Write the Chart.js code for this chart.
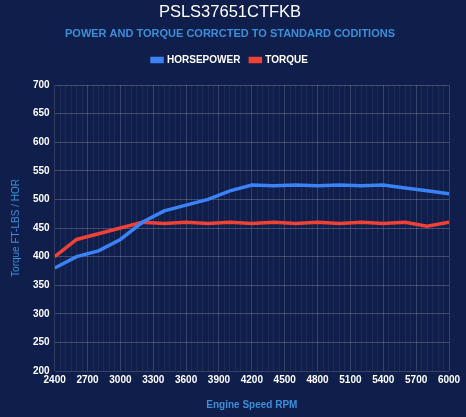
<!DOCTYPE html>
<html>
<head>
<meta charset="utf-8">
<script src="https://cdn.jsdelivr.net/npm/chart.js@4"></script>
<style>
  html, body { margin: 0; padding: 0; background: #101e4b; }
  #wrap { width: 466px; height: 417px; }
</style>
</head>
<body>
<div id="wrap"><canvas id="dyno" width="466" height="417"></canvas></div>
<script>
// RPM sample points and readings
const rpm = [2400, 2600, 2800, 3000, 3200, 3400, 3600, 3800, 4000, 4200,
             4400, 4600, 4800, 5000, 5200, 5400, 5600, 5800, 6000];
const horsepower = [380, 400, 410, 430, 460, 480, 490, 500, 515, 525,
                    524, 525, 524, 525, 524, 525, 520, 515, 510];
const torque = [400, 430, 440, 450, 460, 458, 460, 458, 460, 458,
                460, 458, 460, 458, 460, 458, 460, 453, 460];

const toPoints = vals => vals.map((v, i) => ({ x: rpm[i], y: v }));

const TEXT_BLUE = '#3b8fd9';

// extra room under the legend
const legendGap = {
  id: 'legendGap',
  beforeInit(chart) {
    const fit = chart.legend.fit;
    chart.legend.fit = function () {
      fit.bind(chart.legend)();
      this.height += 10;
    };
  }
};

new Chart(document.getElementById('dyno'), {
  type: 'line',
  data: {
    datasets: [{
      label: 'HORSEPOWER',
      data: toPoints(horsepower),
      borderColor: '#3b82f6',
      backgroundColor: '#3b82f6',
      borderWidth: 3.5,
      pointRadius: 0,
      tension: 0
    }, {
      label: 'TORQUE',
      data: toPoints(torque),
      borderColor: '#ef4135',
      backgroundColor: '#ef4135',
      borderWidth: 3.5,
      pointRadius: 0,
      tension: 0
    }]
  },
  options: {
    responsive: false,
    animation: false,
    layout: { padding: { top: 2, right: 17, left: 11, bottom: 2 } },
    plugins: {
      title: {
        display: true,
        text: 'PSLS37651CTFKB',
        color: '#ffffff',
        font: { size: 16.5, weight: 'normal' },
        padding: { top: 1, bottom: 5 }
      },
      subtitle: {
        display: true,
        text: 'POWER AND TORQUE CORRCTED TO STANDARD CODITIONS',
        color: TEXT_BLUE,
        font: { size: 11, weight: 'bold' },
        padding: { bottom: 4 }
      },
      legend: {
        labels: {
          color: '#ffffff',
          boxWidth: 10,
          boxHeight: 3,
          font: { size: 10, weight: 'bold' }
        }
      },
      tooltip: { enabled: false }
    },
    scales: {
      x: {
        type: 'linear',
        min: 2400,
        max: 6000,
        ticks: {
          stepSize: 50,
          autoSkip: false,
          maxRotation: 0,
          color: '#ffffff',
          font: { size: 10, weight: 'bold' },
          callback: v => (v % 300 === 0 ? String(v) : '')
        },
        grid: {
          color: c => (c.tick && c.tick.value % 300 === 0) ? 'rgba(255,255,255,0.16)' : 'rgba(255,255,255,0.06)',
          drawTicks: false
        },
        title: {
          display: true,
          text: 'Engine Speed RPM',
          color: TEXT_BLUE,
          font: { size: 10, weight: 'bold' },
          padding: { top: 10 }
        }
      },
      y: {
        min: 200,
        max: 700,
        ticks: {
          stepSize: 50,
          color: '#ffffff',
          font: { size: 10, weight: 'bold' },
          padding: 5
        },
        grid: { color: 'rgba(255,255,255,0.2)', drawTicks: false },
        title: {
          display: true,
          text: 'Torque FT-LBS / HOR',
          color: TEXT_BLUE,
          font: { size: 10 },
          padding: { top: -1, bottom: 6 }
        }
      }
    }
  },
  plugins: [legendGap]
});
</script>
</body>
</html>
